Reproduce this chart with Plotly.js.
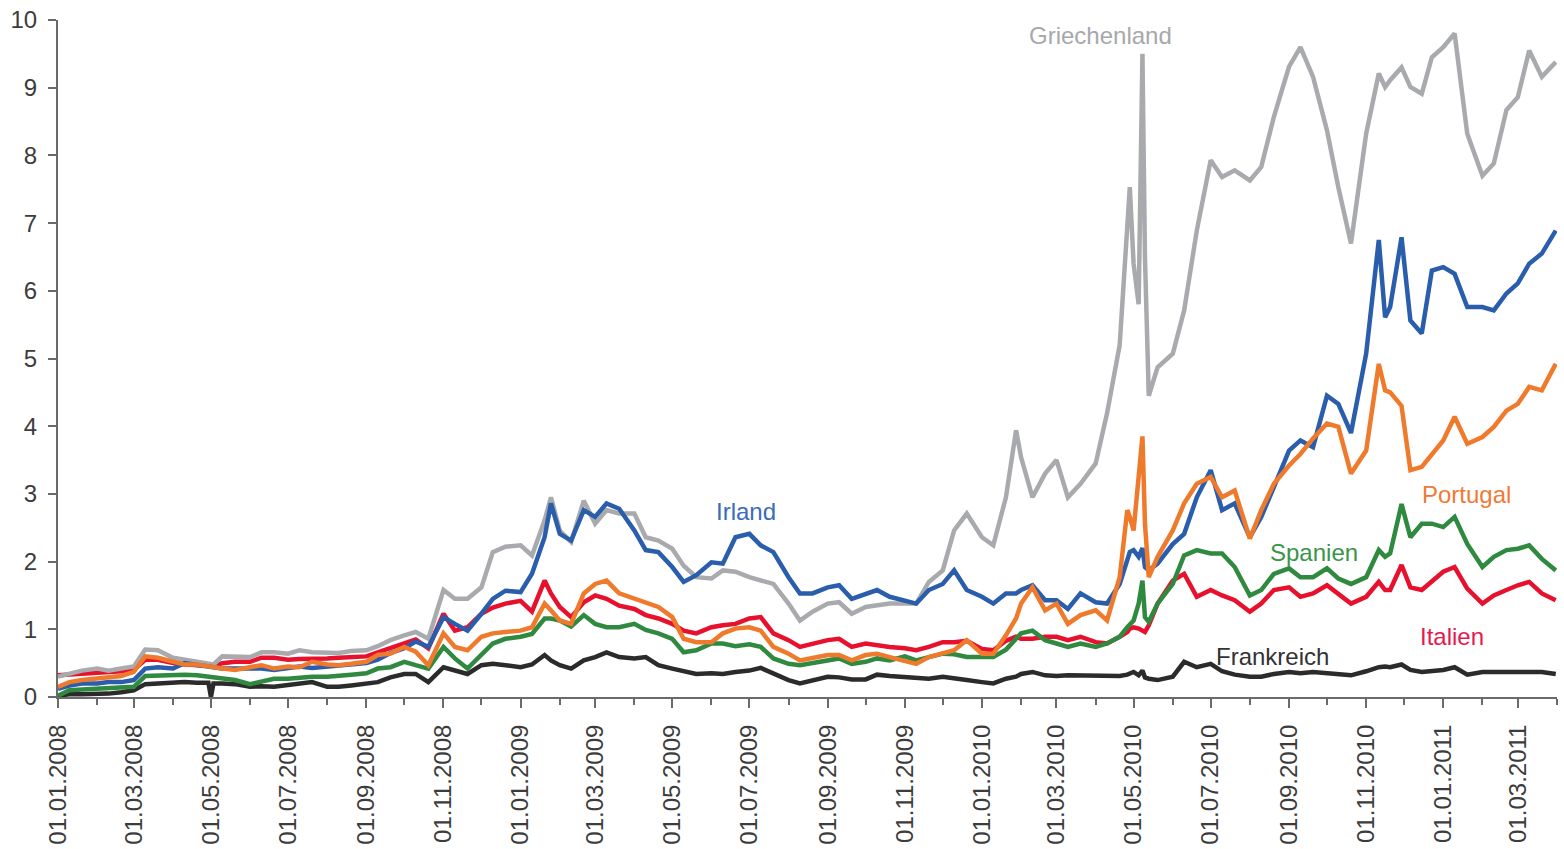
<!DOCTYPE html>
<html>
<head>
<meta charset="utf-8">
<script src="https://cdn.plot.ly/plotly-3.0.1.min.js"></script>
<style>
  html, body { margin: 0; padding: 0; background: #ffffff; }
  #chart { width: 1564px; height: 849px; }
</style>
</head>
<body>
<div id="chart"></div>
<script>
// Dates (shared x values for all series)
const dates = [
  '2008-01-01','2008-01-10','2008-01-20','2008-02-01','2008-02-10','2008-02-20','2008-03-01','2008-03-10','2008-03-20',
  '2008-04-01','2008-04-10','2008-04-20','2008-04-29','2008-05-01','2008-05-03','2008-05-10','2008-05-20',
  '2008-06-01','2008-06-10','2008-06-20','2008-07-01','2008-07-10','2008-07-20','2008-08-01','2008-08-10','2008-08-20',
  '2008-09-01','2008-09-10','2008-09-20','2008-10-01','2008-10-10','2008-10-20','2008-11-01','2008-11-10','2008-11-20',
  '2008-12-01','2008-12-10','2008-12-20',
  '2009-01-01','2009-01-10','2009-01-20','2009-01-25','2009-02-01','2009-02-10','2009-02-20','2009-03-01','2009-03-10','2009-03-20',
  '2009-04-01','2009-04-10','2009-04-20','2009-05-01','2009-05-10','2009-05-20','2009-06-01','2009-06-10','2009-06-20',
  '2009-07-01','2009-07-10','2009-07-20','2009-08-01','2009-08-10','2009-08-20','2009-09-01','2009-09-10','2009-09-20',
  '2009-10-01','2009-10-10','2009-10-20','2009-11-01','2009-11-10','2009-11-20','2009-12-01','2009-12-10','2009-12-20',
  '2010-01-01','2010-01-10','2010-01-20','2010-01-28','2010-02-01','2010-02-10','2010-02-20','2010-03-01','2010-03-10','2010-03-20',
  '2010-04-01','2010-04-10','2010-04-20','2010-04-26','2010-04-28','2010-05-01','2010-05-05','2010-05-08','2010-05-10','2010-05-13','2010-05-20',
  '2010-06-01','2010-06-10','2010-06-20','2010-07-01','2010-07-10','2010-07-20','2010-08-01','2010-08-10','2010-08-20',
  '2010-09-01','2010-09-10','2010-09-20','2010-10-01','2010-10-10','2010-10-20',
  '2010-11-01','2010-11-11','2010-11-16','2010-11-20','2010-11-29','2010-12-06','2010-12-15','2010-12-23',
  '2011-01-01','2011-01-10','2011-01-20','2011-02-01','2011-02-10','2011-02-20','2011-03-01','2011-03-10','2011-03-20','2011-03-31'
];

const griechenland = [
  0.30,0.34,0.39, 0.42,0.39,0.42, 0.45,0.70,0.69, 0.58,0.55,0.53, 0.49,0.48,0.48, 0.60,0.59,
  0.59,0.66,0.66, 0.64,0.69,0.66, 0.65,0.65,0.68, 0.69,0.75,0.84, 0.91,0.96,0.86, 1.58,1.45,1.45, 1.62,2.14,2.22,
  2.24,2.09,2.61,2.95, 2.46,2.29,2.90, 2.56,2.76,2.71, 2.71,2.36,2.31, 2.19,1.94,1.77, 1.75,1.87,1.85,
  1.77,1.72,1.67, 1.38,1.13,1.26, 1.38,1.40,1.23, 1.33,1.35,1.38, 1.38,1.38,1.70, 1.87,2.46,2.71,
  2.36,2.24,2.95,3.94, 3.54,2.95,3.30, 3.50,2.95,3.15, 3.45,4.19,5.20,7.00,7.53, 6.40,5.80,9.50,6.50,4.45,4.87,
  5.07,5.71,6.89, 7.93,7.68,7.78, 7.63,7.83,8.57, 9.31,9.60,9.16, 8.37,7.53,6.70,
  8.32,9.21,9.01,9.11,9.30, 9.01,8.91,9.45,
  9.60,9.80,8.32, 7.70,7.88,8.67, 8.86,9.55,9.16,9.38
];

const irland = [
  0.12,0.17,0.20, 0.20,0.22,0.22, 0.25,0.42,0.44, 0.42,0.50,0.48, 0.45,0.45,0.44, 0.42,0.42,
  0.42,0.42,0.40, 0.43,0.45,0.43, 0.45,0.45,0.47, 0.50,0.55,0.65, 0.72,0.82,0.74, 1.18,1.08,0.98, 1.23,1.45,1.57,
  1.55,1.82,2.36,2.86, 2.41,2.31,2.76, 2.66,2.86,2.78, 2.46,2.17,2.14, 1.92,1.70,1.80, 1.99,1.97,2.36,
  2.41,2.24,2.14, 1.77,1.53,1.53, 1.62,1.65,1.45, 1.53,1.58,1.48, 1.43,1.38,1.58, 1.67,1.87,1.58,
  1.48,1.38,1.53,1.53, 1.58,1.65,1.43, 1.43,1.30,1.53, 1.40,1.38,1.67,2.02,2.14, 2.17,2.07,2.20,1.92,1.87,1.97,
  2.26,2.41,2.95, 3.35,2.76,2.86, 2.36,2.66,3.10, 3.64,3.79,3.69, 4.45,4.33,3.90,
  5.07,6.75,5.61,5.76,6.79, 5.56,5.37,6.30,
  6.35,6.25,5.76, 5.76,5.71,5.96, 6.11,6.40,6.55,6.89
];

const portugal = [
  0.15,0.22,0.25, 0.27,0.29,0.31, 0.37,0.60,0.58, 0.52,0.48,0.48, 0.45,0.44,0.43, 0.42,0.40,
  0.44,0.47,0.42, 0.45,0.44,0.52, 0.48,0.47,0.49, 0.52,0.62,0.64, 0.74,0.67,0.47, 0.94,0.74,0.69, 0.89,0.94,0.96,
  0.98,1.03,1.38,1.28, 1.13,1.08,1.53, 1.67,1.72,1.53, 1.45,1.38,1.33, 1.18,0.86,0.81, 0.81,0.94,1.01,
  1.03,0.98,0.74, 0.64,0.54,0.57, 0.62,0.62,0.54, 0.62,0.64,0.59, 0.54,0.49,0.59, 0.64,0.69,0.84,
  0.64,0.64,0.91,1.16, 1.38,1.62,1.28, 1.38,1.08,1.21, 1.28,1.13,1.77,2.76,2.66, 2.46,3.20,3.85,2.56,1.77,2.07,
  2.46,2.86,3.15, 3.25,2.95,3.05, 2.34,2.76,3.15, 3.42,3.59,3.82, 4.04,3.99,3.30,
  3.64,4.92,4.53,4.50,4.30, 3.35,3.40,3.59,
  3.79,4.14,3.74, 3.84,3.99,4.23, 4.33,4.58,4.53,4.92
];

const spanien = [
  0.02,0.10,0.11, 0.12,0.13,0.14, 0.15,0.31,0.32, 0.32,0.33,0.32, 0.30,0.30,0.29, 0.27,0.25,
  0.19,0.22,0.27, 0.27,0.29,0.30, 0.30,0.32,0.33, 0.35,0.42,0.44, 0.52,0.47,0.42, 0.74,0.57,0.42, 0.62,0.79,0.86,
  0.89,0.93,1.16,1.16, 1.13,1.04,1.21, 1.08,1.03,1.03, 1.08,0.99,0.94, 0.86,0.66,0.69, 0.79,0.79,0.75,
  0.78,0.74,0.57, 0.49,0.47,0.50, 0.54,0.57,0.49, 0.52,0.57,0.54, 0.60,0.54,0.59, 0.64,0.63,0.59,
  0.59,0.59,0.70,0.86, 0.94,0.98,0.84, 0.79,0.74,0.79, 0.74,0.79,0.89,1.03,1.08, 1.13,1.38,1.72,1.18,1.11,1.38,
  1.67,2.09,2.17, 2.12,2.12,1.92, 1.50,1.58,1.82, 1.90,1.77,1.77, 1.90,1.75,1.67,
  1.77,2.17,2.07,2.12,2.85, 2.36,2.56,2.56,
  2.51,2.66,2.26, 1.92,2.07,2.17, 2.19,2.24,2.04,1.87
];

const italien = [
  0.32,0.33,0.35, 0.36,0.36,0.38, 0.40,0.55,0.55, 0.50,0.48,0.47, 0.46,0.45,0.46, 0.50,0.52,
  0.52,0.58,0.58, 0.55,0.56,0.56, 0.57,0.58,0.59, 0.60,0.66,0.72, 0.78,0.85,0.72, 1.23,0.98,1.03, 1.23,1.32,1.38,
  1.42,1.26,1.72,1.53, 1.33,1.18,1.40, 1.50,1.45,1.35, 1.30,1.21,1.16, 1.08,0.98,0.94, 1.03,1.06,1.08,
  1.16,1.18,0.94, 0.84,0.74,0.79, 0.84,0.86,0.74, 0.79,0.76,0.74, 0.72,0.69,0.74, 0.81,0.81,0.83,
  0.71,0.69,0.83,0.89, 0.86,0.86,0.89, 0.89,0.84,0.89, 0.81,0.79,0.89,0.96,1.01, 1.03,1.01,0.98,0.96,1.06,1.38,
  1.72,1.82,1.48, 1.58,1.50,1.43, 1.26,1.38,1.58, 1.62,1.48,1.53, 1.65,1.53,1.38,
  1.48,1.70,1.58,1.58,1.95, 1.62,1.58,1.70,
  1.85,1.92,1.60, 1.38,1.50,1.58, 1.65,1.70,1.53,1.43
];

const frankreich = [
  0.02,0.04,0.04, 0.04,0.05,0.07, 0.10,0.19,0.20, 0.21,0.22,0.21, 0.21,0.00,0.20, 0.20,0.19,
  0.15,0.16,0.15, 0.17,0.19,0.22, 0.15,0.15,0.17, 0.19,0.22,0.29, 0.34,0.34,0.22, 0.44,0.39,0.34, 0.47,0.49,0.47,
  0.44,0.48,0.62,0.54, 0.47,0.42,0.54, 0.59,0.66,0.59, 0.57,0.59,0.47, 0.42,0.39,0.34, 0.35,0.34,0.37,
  0.39,0.43,0.34, 0.25,0.20,0.25, 0.30,0.29,0.26, 0.26,0.33,0.31, 0.30,0.29,0.27, 0.30,0.27,0.25,
  0.22,0.20,0.27,0.30, 0.34,0.37,0.32, 0.31,0.32,0.32, 0.32,0.32,0.31,0.33,0.34, 0.37,0.32,0.39,0.29,0.27,0.25,
  0.30,0.52,0.44, 0.49,0.38,0.33, 0.30,0.30,0.34, 0.37,0.35,0.37, 0.35,0.33,0.32,
  0.38,0.44,0.45,0.44,0.48, 0.40,0.37,0.38,
  0.40,0.44,0.33, 0.37,0.37,0.38, 0.38,0.37,0.37,0.34
];

const seriesNames = ['Frankreich','Italien','Spanien','Griechenland','Irland','Portugal'];
const seriesValues = [frankreich, italien, spanien, griechenland, irland, portugal];
const lineColors = ['#2b2b2b','#e8112d','#2f8a3f','#a9aaad','#2a5eac','#f07a2c'];

const labelText = ['Griechenland','Irland','Portugal','Spanien','Italien','Frankreich'];
const labelX = ['2010-04-05','2009-06-28','2011-01-19','2010-09-21','2011-01-08','2010-08-19'];
const labelY = [9.77, 2.74, 2.99, 2.14, 0.90, 0.60];
const labelColors = ['#a6a8ac','#3a6cbc','#f07a34','#3a9548','#e6194e','#333333'];

const traces = seriesNames.map((n, i) => ({
  type: 'scatter',
  mode: 'lines',
  name: n,
  x: dates,
  y: seriesValues[i],
  line: { color: lineColors[i], width: 4.5, shape: 'linear' },
  hoverinfo: 'x+y+name'
}));

const annotations = labelText.map((t, i) => ({
  x: labelX[i], y: labelY[i], xref: 'x', yref: 'y',
  text: t, showarrow: false, xanchor: 'center', yanchor: 'middle',
  font: { family: 'Liberation Sans, Arial, sans-serif', size: 24, color: labelColors[i] }
}));

const axisColor = '#6a6a6a';
const layout = {
  width: 1564, height: 849,
  margin: { l: 58, r: 7, t: 20, b: 152, pad: 0 },
  paper_bgcolor: '#ffffff', plot_bgcolor: '#ffffff',
  showlegend: false,
  font: { family: 'Liberation Sans, Arial, sans-serif', size: 24, color: '#3c3c3c' },
  xaxis: {
    type: 'date',
    range: ['2008-01-01', '2011-04-01'],
    tick0: '2008-01-01', dtick: 'M2',
    tickformat: '%d.%m.%Y', tickangle: -90,
    ticks: 'outside', ticklen: 9, tickwidth: 2, tickcolor: axisColor,
    minor: { dtick: 'M1', tick0: '2008-01-01', ticks: 'outside', ticklen: 6, tickwidth: 2, tickcolor: axisColor, showgrid: false },
    showline: true, linecolor: axisColor, linewidth: 2,
    showgrid: false, zeroline: false,
    ticklabelstandoff: 7,
    tickfont: { family: 'Liberation Sans, Arial, sans-serif', size: 24, color: '#3c3c3c' }
  },
  yaxis: {
    range: [0, 10], dtick: 1, tick0: 0,
    ticks: 'outside', ticklen: 8, tickwidth: 2, tickcolor: axisColor,
    showline: true, linecolor: axisColor, linewidth: 2,
    showgrid: false, zeroline: false,
    ticklabelstandoff: 6,
    tickfont: { family: 'Liberation Sans, Arial, sans-serif', size: 24, color: '#3c3c3c' }
  },
  annotations: annotations
};

Plotly.newPlot('chart', traces, layout, { displayModeBar: false, staticPlot: true });
</script>
</body>
</html>
